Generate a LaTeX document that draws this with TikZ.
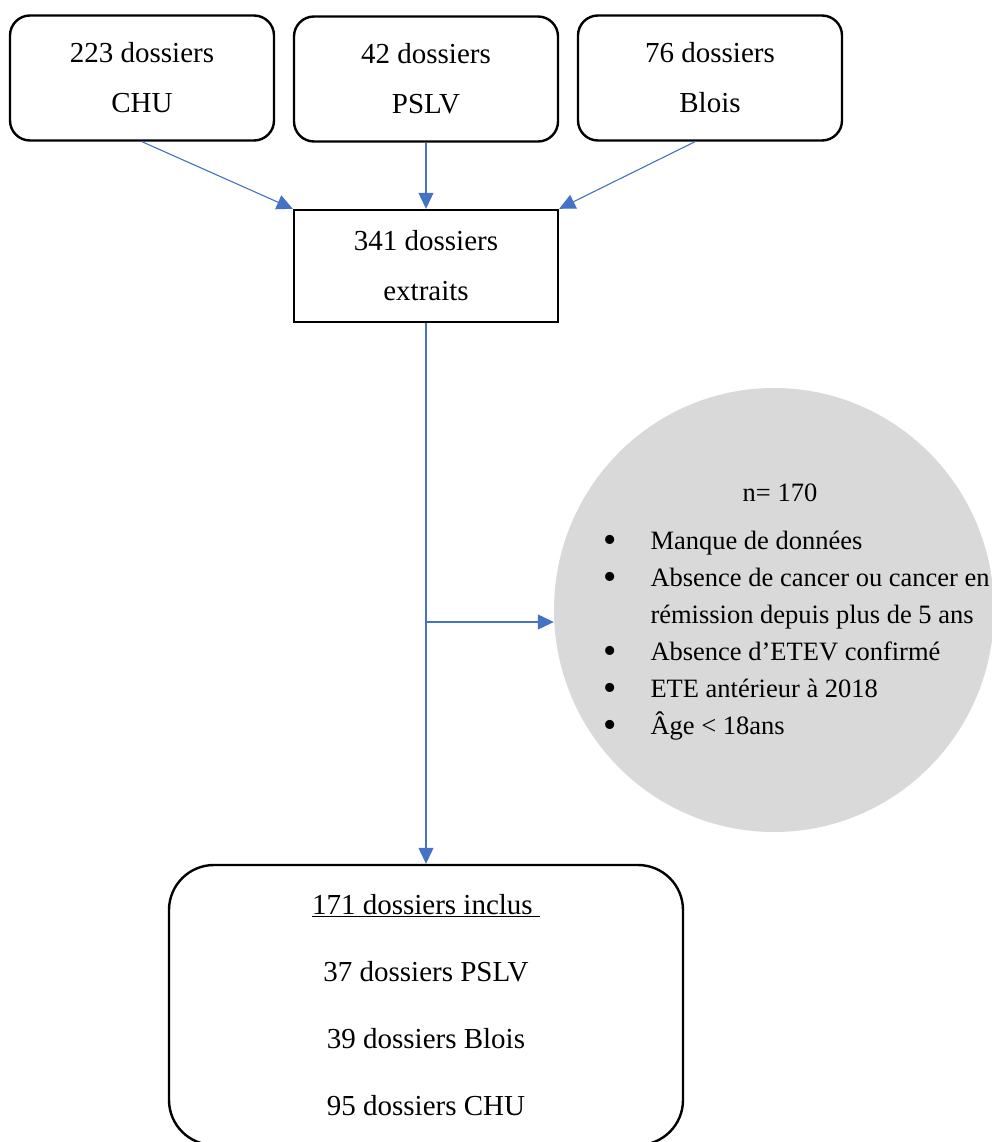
\documentclass[tikz,border=0pt]{standalone}
\usepackage{fontspec}
\setmainfont{Liberation Serif}
\usetikzlibrary{arrows.meta,shapes.geometric}
\definecolor{fleche}{HTML}{4472C4}
\definecolor{gris}{HTML}{D9D9D9}
\newcommand{\puce}{\raisebox{-3pt}{\fontsize{38}{37}\selectfont\textbullet}}

\begin{document}
\begin{tikzpicture}[x=1pt,y=-1pt]
    \tikzset{
        source/.style={draw,line width=2.4pt,rounded corners=20pt,
            minimum width=264pt,minimum height=125pt,align=center,
            font=\fontsize{29}{50}\selectfont},
        bloc/.style={draw,line width=2.4pt,minimum width=264pt,
            minimum height=112pt,align=center,
            font=\fontsize{29}{50}\selectfont},
        liaison/.style={draw=fleche,line width=1.1pt,
            -{Triangle[length=16pt,width=15pt]},color=fleche}
    }
    \useasboundingbox (0,0) rectangle (991,1142);

    % sources
    \node[source] (chu)   at (142,78)  {223 dossiers\\CHU};
    \node[source] (pslv)  at (426,79)  {42 dossiers\\PSLV};
    \node[source] (blois) at (710,78)  {76 dossiers\\Blois};

    \node[bloc] (extraits) at (426,266) {341 dossiers\\extraits};

    % exclusions
    \node[ellipse,fill=gris,minimum width=440pt,minimum height=444pt]
        (exclus) at (774,610) {};
    \node[font=\fontsize{26.5}{37}\selectfont] (ncount) at (780,493) {n= 170};
    \node[anchor=north west,inner sep=0pt,font=\fontsize{26.5}{37}\selectfont]
        (motifs) at (603,523) {%
        \begin{tabular}{@{}l@{\hspace{34pt}}l@{}}
            \puce & Manque de données\\
            \puce & Absence de cancer ou cancer en\\
                  & rémission depuis plus de 5 ans\\
            \puce & Absence d’ETEV confirmé\\
            \puce & ETE antérieur à 2018\\
            \puce & Âge < 18ans
        \end{tabular}};

    \node[draw,line width=2.4pt,rounded corners=45pt,minimum width=514pt,
        minimum height=280pt,align=center,
        font=\fontsize{29}{67}\selectfont] (inclus) at (426,1005)
        {\underline{171 dossiers inclus~}\\37 dossiers PSLV\\
         39 dossiers Blois\\95 dossiers CHU};

    \draw[liaison] (chu.south) -- (extraits.north west);
    \draw[liaison] (pslv.south) -- (extraits.north);
    \draw[liaison] ([xshift=-15pt]blois.south) -- (extraits.north east);
    \draw[liaison] (extraits.south) -- (inclus.north);
    \coordinate (embranchement) at (426,622);
    \draw[liaison] (embranchement) -- (embranchement -| exclus.west);
\end{tikzpicture}
\end{document}
